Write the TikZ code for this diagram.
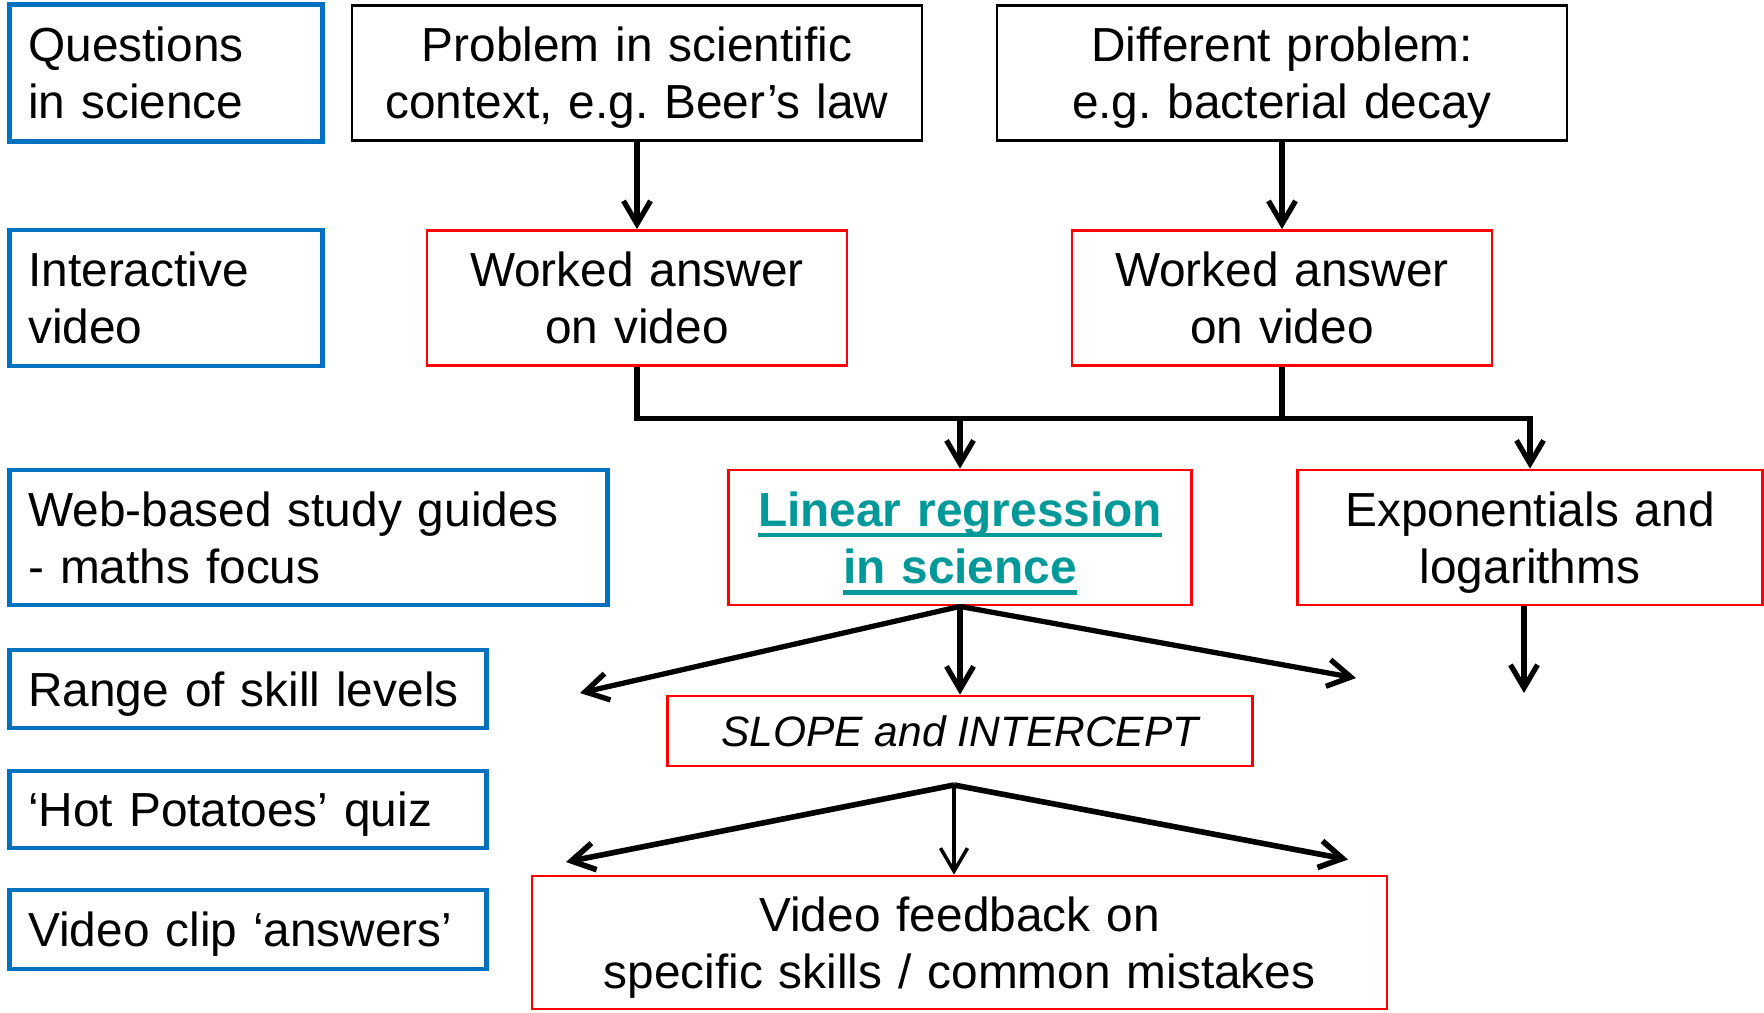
\documentclass[tikz,border=0pt]{standalone}
\usepackage{fontspec}
\setmainfont{Liberation Sans}
\usetikzlibrary{arrows.meta}

\definecolor{infoblue}{RGB}{0,112,192}
\definecolor{linkteal}{RGB}{0,153,153}
\newcommand{\linkul}[1]{\leavevmode\setbox0\hbox{#1}\rlap{\rule[-3.2pt]{\wd0}{1.4pt}}\box0}

\begin{document}
\frenchspacing
\begin{tikzpicture}[font=\fontsize{13.6}{16.3}\selectfont,
    infobox/.style={draw=infoblue, line width=1.3pt, inner xsep=0.19cm, align=left, anchor=west},
    probbox/.style={draw=black, line width=0.8pt, align=center, text width=5.3cm, minimum width=5.7cm, minimum height=1.35cm},
    stepbox/.style={draw=red, line width=0.8pt, align=center},
    twoline/.style={text depth=16.3pt},
    oneline/.style={text depth=0pt},
    flow/.style={-{Straight Barb[length=2.3mm,width=2.7mm]}, line width=1.5pt}]

\useasboundingbox (0,0) rectangle (17.64,-10.12);

% left column
\node[infobox, twoline, text width=2.75cm, minimum height=1.37cm] (questions) at (0.07,-0.73) {Questions\\in science};
\node[infobox, twoline, text width=2.75cm, minimum height=1.36cm] (interactive) at (0.07,-2.98) {Interactive\\video};
\node[infobox, twoline, text width=5.6cm, minimum height=1.35cm] (web) at (0.07,-5.375) {Web-based study guides\\- maths focus};
\node[infobox, oneline, text width=4.39cm, minimum height=0.78cm] (range) at (0.07,-6.89) {Range of skill levels};
\node[infobox, oneline, text width=4.39cm, minimum height=0.77cm] (hot) at (0.07,-8.095) {‘Hot Potatoes’ quiz};
\node[infobox, oneline, text width=4.39cm, minimum height=0.79cm] (clip) at (0.07,-9.295) {Video clip ‘answers’};

% problems
\node[probbox, twoline] (problem) at (6.37,-0.73) {Problem in scientific\\context, e.g. Beer’s law};
\node[probbox, twoline] (different) at (12.82,-0.73) {Different problem:\\e.g. bacterial decay};

\node[stepbox, twoline, text width=3.8cm, minimum width=4.2cm, minimum height=1.35cm] (workedL) at (6.37,-2.98) {Worked answer\\on video};
\node[stepbox, twoline, text width=3.8cm, minimum width=4.2cm, minimum height=1.35cm] (workedR) at (12.82,-2.98) {Worked answer\\on video};

\node[stepbox, twoline, text width=4.3cm, minimum width=4.63cm, minimum height=1.35cm, text=linkteal, font=\fontsize{13.6}{16.3}\selectfont\bfseries] (linear) at (9.6,-5.375) {\linkul{Linear regression}\\\linkul{in science}};
\node[stepbox, twoline, text width=4.32cm, minimum width=4.65cm, minimum height=1.35cm] (expo) at (15.3,-5.375) {Exponentials and\\logarithms};

\node[stepbox, oneline, minimum width=5.85cm, minimum height=0.7cm, font=\fontsize{12.1}{14.5}\selectfont\itshape] (slope) at (9.6,-7.31) {SLOPE and INTERCEPT};
\node[stepbox, twoline, text width=8.22cm, minimum width=8.55cm, minimum height=1.33cm] (feedback) at (9.595,-9.425) {Video feedback on\\specific skills / common mistakes};

\draw[flow] (problem) -- (workedL);
\draw[flow] (different) -- (workedR);

\coordinate (bar) at (9.6,-4.185);
\draw[flow] (workedL.south) -- (workedL.south |- bar) -| (expo.north);
\draw[line width=1.5pt] (workedR.south) -- (workedR.south |- bar);
\draw[flow] (linear.north |- bar) -- (linear.north);

% fan out of linear regression
\coordinate (leftgap) at (5.8,-6.93);
\coordinate (rightgap) at (13.56,-6.78);
\coordinate (expogap) at (15.24,-6.93);
\draw[flow] (linear.south) -- (leftgap);
\draw[flow] (linear.south) -- (slope.north);
\draw[flow] (linear.south) -- (rightgap);
\draw[flow] (expogap |- expo.south) -- (expogap);

% fan into feedback
\coordinate (fan) at (9.54,-7.85);
\coordinate (fbleft) at (5.66,-8.62);
\coordinate (fbright) at (13.48,-8.595);
\draw[flow, line width=1.6pt] (fan) -- (fbleft);
\draw[flow, line width=1pt] (fan) -- (fan |- feedback.north);
\draw[flow, line width=1.6pt] (fan) -- (fbright);

\end{tikzpicture}
\end{document}
